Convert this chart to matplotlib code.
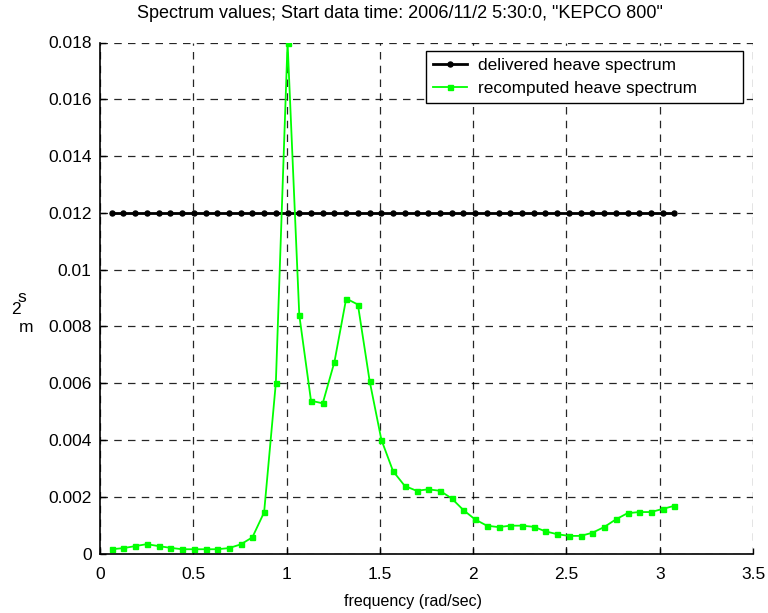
# plot.py - heave spectrum comparison
import matplotlib.pyplot as plt
import numpy as np

plt.rcParams['font.family'] = ['Liberation Sans', 'DejaVu Sans']

# frequency grid (rad/sec), one point every 0.0628
freq = [0.0628, 0.1257, 0.1885, 0.2513, 0.3142, 0.3770, 0.4398, 0.5027, 0.5655,
        0.6283, 0.6912, 0.7540, 0.8168, 0.8796, 0.9425, 1.0053, 1.0681, 1.1310,
        1.1938, 1.2566, 1.3195, 1.3823, 1.4451, 1.5080, 1.5708, 1.6336, 1.6965,
        1.7593, 1.8221, 1.8850, 1.9478, 2.0106, 2.0735, 2.1363, 2.1991, 2.2619,
        2.3248, 2.3876, 2.4504, 2.5133, 2.5761, 2.6389, 2.7018, 2.7646, 2.8274,
        2.8903, 2.9531, 3.0159, 3.0788]

# delivered spectrum is flat
delivered = [0.012] * len(freq)

# recomputed spectrum
recomputed = [0.00015, 0.00019, 0.00026, 0.00033, 0.00026, 0.00020, 0.00015,
              0.00015, 0.00015, 0.00015, 0.00019, 0.00032, 0.00057, 0.00145,
              0.00601, 0.01800, 0.00840, 0.00538, 0.00529, 0.00675, 0.00898,
              0.00877, 0.00608, 0.00401, 0.00290, 0.00238, 0.00221, 0.00226,
              0.00221, 0.00194, 0.00153, 0.00120, 0.00098, 0.00093, 0.00098,
              0.00098, 0.00094, 0.00078, 0.00068, 0.00062, 0.00062, 0.00073,
              0.00093, 0.00120, 0.00142, 0.00146, 0.00146, 0.00157, 0.00168]

xticks = [0, 0.5, 1, 1.5, 2, 2.5, 3, 3.5]
yticks = [0, 0.002, 0.004, 0.006, 0.008, 0.01, 0.012, 0.014, 0.016, 0.018]
yticklabels = ['0', '0.002', '0.004', '0.006', '0.008', '0.01', '0.012',
               '0.014', '0.016', '0.018']

W, H = 768, 613
fig = plt.figure(figsize=(W / 100, H / 100), dpi=100)
ax = fig.add_axes([100 / W, 1 - 553.5 / H, 653 / W, 511 / H])

ax.plot(freq, delivered, '-o', color='black', linewidth=2, markersize=3.6,
        label='delivered heave spectrum')
ax.plot(freq, recomputed, '-s', color='#00ff00', linewidth=1.3, markersize=3.6,
        label='recomputed heave spectrum')

ax.set_xlim(0, 3.5)
ax.set_ylim(0, 0.018)
ax.set_xticks(xticks)
ax.set_xticklabels([('%g' % t) for t in xticks])
ax.set_yticks(yticks)
ax.set_yticklabels(yticklabels)
ax.tick_params(direction='in', length=4, labelsize=12.5, width=1)
ax.tick_params(axis='x', pad=10)
ax.tick_params(axis='y', pad=6)

ax.grid(True, color='black', linestyle=(0, (6, 5)), linewidth=0.9, alpha=0.85)
ax.spines['top'].set_visible(False)
ax.spines['right'].set_visible(False)
ax.spines['left'].set_linewidth(1.2)
ax.spines['bottom'].set_linewidth(1.2)

ax.set_xlabel('frequency (rad/sec)', fontsize=11.5, labelpad=6)
ax.xaxis.set_label_coords(0.479, -0.08)
ax.set_title('Spectrum values; Start data time: 2006/11/2 5:30:0, "KEPCO 800"',
             fontsize=13, x=0.459, pad=18)

# odd stacked y label as in the original
fig.text(22 / W, 1 - 297 / H, 's', fontsize=12.5, ha='center', va='center')
fig.text(16 / W, 1 - 310 / H, '2', fontsize=12.5, ha='center', va='center')
fig.text(26 / W, 1 - 327 / H, 'm', fontsize=12.5, ha='center', va='center')

# legend box placed where the original has it (426..743 px, top at 51 px)
leg = ax.legend(loc='upper left', bbox_to_anchor=(326 / 653, 0, 317 / 653, 502.5 / 511),
                mode='expand', borderaxespad=0, fontsize=12.4, fancybox=False,
                framealpha=1, edgecolor='black', handlelength=2.0,
                labelspacing=0.45, handletextpad=0.6, borderpad=0.4)
leg.get_frame().set_linewidth(1)

plt.savefig('out.png', dpi=100)
